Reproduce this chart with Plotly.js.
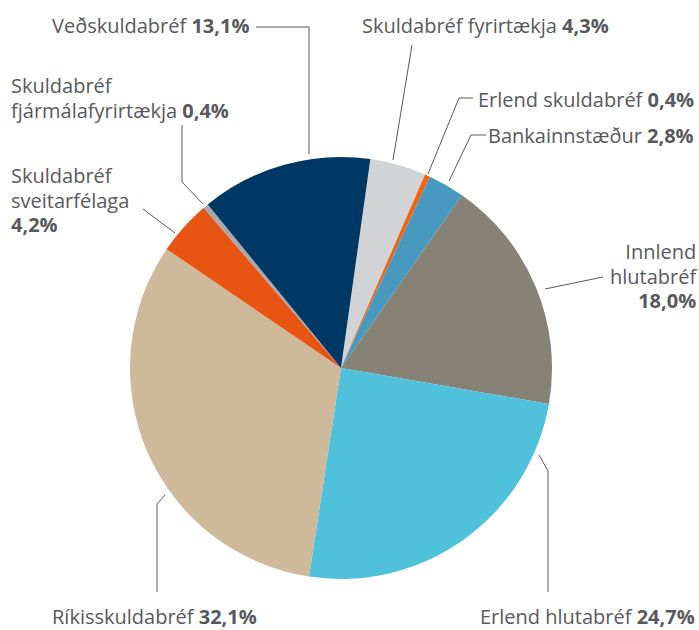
<!DOCTYPE html>
<html>
<head>
<meta charset="utf-8">
<script src="https://cdn.plot.ly/plotly-3.0.1.min.js"></script>
<style>html,body{margin:0;padding:0;background:#fff;}#chart{width:699px;height:630px;}</style>
</head>
<body>
<div id="chart"></div>
<script>
// ---- data ----
const labels = ['Skuldabréf fyrirtækja', 'Erlend skuldabréf', 'Bankainnstæður', 'Innlend hlutabréf', 'Erlend hlutabréf', 'Ríkisskuldabréf', 'Skuldabréf sveitarfélaga', 'Skuldabréf fjármálafyrirtækja', 'Veðskuldabréf'];
const values = [4.3, 0.4, 2.8, 18.0, 24.7, 32.1, 4.2, 0.4, 13.1];
// '|' marks a line break in the drawn label
const displayLabels = ['Skuldabréf fyrirtækja ', 'Erlend skuldabréf ', 'Bankainnstæður ', 'Innlend|hlutabréf|', 'Erlend hlutabréf ', 'Ríkisskuldabréf ', 'Skuldabréf|sveitarfélaga|', 'Skuldabréf|fjármálafyrirtækja ', 'Veðskuldabréf '];
const colors = ['#d1d3d4', '#f0640f', '#4899c0', '#878276', '#50c1da', '#cfb99b', '#e85412', '#a7a9ac', '#003865'];

// ---- layout config (pixel positions for labels and leader lines) ----
const W = 699, H = 630;
const cx = 341, cy = 368, R = 211;
const px = x => x / W;
const py = y => 1 - y / H;
const FS = 20;          // glyph size
const BASE = 24.5 / 1.3; // base size giving 24.5px line spacing

// label anchor: [x, y, xanchor, yanchor]  (y = middle of the whole block, or bottom)
const labelPos = [
  [361, 26, 'left', 'middle'],
  [477, 99, 'left', 'middle'],
  [487, 135, 'left', 'middle'],
  [698, 275.5, 'right', 'middle'],
  [479, 631, 'left', 'bottom'],
  [51, 631, 'left', 'bottom'],
  [10, 199.5, 'left', 'middle'],
  [10, 97.5, 'left', 'middle'],
  [250, 26, 'right', 'middle']
];
// leader polylines in pixels
const leaders = [
  [[412, 45], [393, 160]],
  [[473, 98], [459, 98], [428, 174]],
  [[486, 135], [471, 135], [449, 181]],
  [[603, 277], [545, 289]],
  [[539, 455], [548, 471], [548, 592]],
  [[165, 495], [157, 504], [157, 592]],
  [[143, 209], [175, 233]],
  [[182, 125], [182, 182], [203, 204]],
  [[256, 27], [309, 27], [309, 154]]
];

const fmt = v => v.toFixed(1).replace('.', ',') + '%';

const annotations = labels.map((l, i) => {
  const lines = (displayLabels[i] + '<b>' + fmt(values[i]) + '</b>').split('|');
  const multi = lines.length > 1;
  const text = multi
    ? lines.map(t => '<span style="font-size:' + FS + 'px">' + t + '</span>').join('<br>')
    : lines[0];
  return {
    xref: 'paper', yref: 'paper',
    x: px(labelPos[i][0]), y: py(labelPos[i][1]),
    xanchor: labelPos[i][2], yanchor: labelPos[i][3], align: labelPos[i][2],
    showarrow: false, borderpad: 0,
    text: text,
    font: {family: '"Open Sans", sans-serif', size: multi ? BASE : FS, color: '#58595b'}
  };
});

const shapes = leaders.map(pts => ({
  type: 'path', xref: 'paper', yref: 'paper',
  path: pts.map((p, j) => (j ? 'L' : 'M') + px(p[0]) + ',' + py(p[1])).join(' '),
  line: {color: '#58595b', width: 1}
}));

const trace = {
  type: 'pie',
  labels: labels,
  values: values,
  sort: false,
  direction: 'clockwise',
  rotation: 8,
  textinfo: 'none',
  hoverinfo: 'label+percent',
  marker: {colors: colors, line: {width: 0}},
  domain: {x: [px(cx - R), px(cx + R)], y: [py(cy + R), py(cy - R)]},
  showlegend: false
};

Plotly.newPlot('chart', [trace], {
  width: W, height: H,
  margin: {l: 0, r: 0, t: 0, b: 0},
  paper_bgcolor: '#ffffff',
  showlegend: false,
  annotations: annotations,
  shapes: shapes
}, {displayModeBar: false, staticPlot: true});
</script>
</body>
</html>
